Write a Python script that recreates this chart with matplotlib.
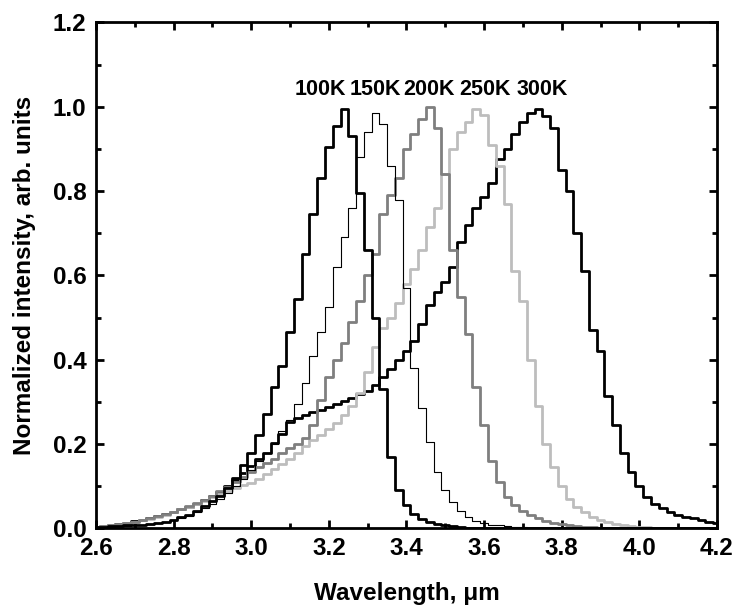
import matplotlib
matplotlib.use("Agg")
import matplotlib.pyplot as plt
from matplotlib.ticker import MultipleLocator
import numpy as np

plt.rcParams['font.family'] = ['Liberation Sans', 'DejaVu Sans']
plt.rcParams['font.weight'] = 'bold'

wl = [round(2.60 + 0.02 * i, 2) for i in range(81)]

i100 = [0.003, 0.004, 0.005, 0.006, 0.007, 0.008, 0.009, 0.011, 0.013, 0.016,
        0.020, 0.026, 0.032, 0.042, 0.054, 0.065, 0.076, 0.095, 0.120, 0.150,
        0.180, 0.222, 0.272, 0.335, 0.385, 0.465, 0.545, 0.650, 0.745, 0.830,
        0.905, 0.955, 0.995, 0.930, 0.795, 0.660, 0.500, 0.330, 0.170, 0.090,
        0.055, 0.035, 0.022, 0.015, 0.010, 0.007, 0.005, 0.003, 0.002, 0.001,
        0.0, 0.0, 0.0, 0.0, 0.0, 0.0, 0.0, 0.0, 0.0, 0.0,
        0.0, 0.0, 0.0, 0.0, 0.0, 0.0, 0.0, 0.0, 0.0, 0.0,
        0.0, 0.0, 0.0, 0.0, 0.0, 0.0, 0.0, 0.0, 0.0, 0.0, 0.0]

i150 = [0.002, 0.003, 0.004, 0.005, 0.006, 0.007, 0.008, 0.010, 0.012, 0.015,
        0.019, 0.024, 0.030, 0.038, 0.048, 0.058, 0.070, 0.085, 0.100, 0.118,
        0.138, 0.160, 0.180, 0.200, 0.230, 0.257, 0.295, 0.345, 0.410, 0.465,
        0.525, 0.620, 0.690, 0.760, 0.880, 0.940, 0.985, 0.960, 0.860, 0.780,
        0.570, 0.380, 0.285, 0.205, 0.135, 0.090, 0.062, 0.042, 0.028, 0.018,
        0.012, 0.009, 0.007, 0.005, 0.004, 0.003, 0.002, 0.001, 0.0, 0.0,
        0.0, 0.0, 0.0, 0.0, 0.0, 0.0, 0.0, 0.0, 0.0, 0.0,
        0.0, 0.0, 0.0, 0.0, 0.0, 0.0, 0.0, 0.0, 0.0, 0.0, 0.0]

i200 = [0.004, 0.006, 0.008, 0.010, 0.013, 0.016, 0.020, 0.024, 0.029, 0.034,
        0.040, 0.046, 0.053, 0.060, 0.068, 0.078, 0.088, 0.098, 0.110, 0.122,
        0.133, 0.145, 0.155, 0.165, 0.178, 0.190, 0.200, 0.215, 0.245, 0.305,
        0.360, 0.400, 0.440, 0.490, 0.540, 0.600, 0.650, 0.745, 0.790, 0.830,
        0.900, 0.935, 0.970, 1.000, 0.950, 0.840, 0.660, 0.550, 0.460, 0.335,
        0.245, 0.160, 0.110, 0.075, 0.055, 0.042, 0.032, 0.025, 0.018, 0.014,
        0.011, 0.008, 0.006, 0.004, 0.003, 0.002, 0.001, 0.0, 0.0, 0.0,
        0.0, 0.0, 0.0, 0.0, 0.0, 0.0, 0.0, 0.0, 0.0, 0.0, 0.0]

i250 = [0.003, 0.005, 0.007, 0.009, 0.012, 0.015, 0.019, 0.023, 0.028, 0.033,
        0.039, 0.045, 0.051, 0.058, 0.066, 0.074, 0.082, 0.089, 0.096, 0.102,
        0.108, 0.117, 0.128, 0.140, 0.152, 0.165, 0.180, 0.195, 0.210, 0.222,
        0.235, 0.250, 0.270, 0.290, 0.320, 0.370, 0.430, 0.475, 0.500, 0.535,
        0.580, 0.615, 0.660, 0.715, 0.760, 0.840, 0.900, 0.940, 0.965, 0.995,
        0.980, 0.910, 0.860, 0.770, 0.610, 0.540, 0.400, 0.290, 0.200, 0.145,
        0.100, 0.070, 0.050, 0.038, 0.028, 0.020, 0.015, 0.011, 0.008, 0.006,
        0.004, 0.003, 0.002, 0.001, 0.0, 0.0, 0.0, 0.0, 0.0, 0.0, 0.0]

i300 = [0.004, 0.006, 0.008, 0.011, 0.014, 0.017, 0.021, 0.025, 0.029, 0.034,
        0.039, 0.045, 0.051, 0.059, 0.067, 0.077, 0.087, 0.100, 0.115, 0.132,
        0.148, 0.165, 0.180, 0.203, 0.224, 0.252, 0.262, 0.268, 0.275, 0.282,
        0.288, 0.294, 0.302, 0.310, 0.318, 0.326, 0.340, 0.358, 0.378, 0.400,
        0.420, 0.445, 0.485, 0.530, 0.560, 0.585, 0.620, 0.680, 0.720, 0.760,
        0.785, 0.820, 0.875, 0.900, 0.935, 0.965, 0.985, 0.995, 0.978, 0.950,
        0.850, 0.800, 0.700, 0.610, 0.470, 0.420, 0.315, 0.245, 0.180, 0.135,
        0.100, 0.075, 0.058, 0.048, 0.040, 0.033, 0.028, 0.024, 0.020, 0.016, 0.012]

labels = ["100K", "150K", "200K", "250K", "300K"]
label_x = [3.177, 3.319, 3.458, 3.602, 3.751]
label_y = 1.04

fig = plt.figure(figsize=(7.39, 6.09), dpi=100)
ax = fig.add_axes([0.1299, 0.1323, 0.8403, 0.8309])

ax.plot(wl, i300, color='black', lw=2.0, drawstyle='steps-mid')
ax.plot(wl, i250, color='#bdbdbd', lw=2.0, drawstyle='steps-mid')
ax.plot(wl, i200, color='#7f7f7f', lw=2.0, drawstyle='steps-mid')
ax.plot(wl, i150, color='black', lw=0.8, drawstyle='steps-mid')
ax.plot(wl, i100, color='black', lw=2.0, drawstyle='steps-mid')

for t, x in zip(labels, label_x):
    ax.text(x, label_y, t, ha='center', va='center', fontsize=15.5, fontweight='bold')

ax.set_xlim(2.6, 4.2)
ax.set_ylim(0.0, 1.2)
ax.xaxis.set_major_locator(MultipleLocator(0.2))
ax.xaxis.set_minor_locator(MultipleLocator(0.1))
ax.yaxis.set_major_locator(MultipleLocator(0.2))
ax.yaxis.set_minor_locator(MultipleLocator(0.1))
ax.xaxis.set_major_formatter(plt.FormatStrFormatter('%.1f'))
ax.yaxis.set_major_formatter(plt.FormatStrFormatter('%.1f'))
ax.tick_params(which='both', direction='in', top=True, right=True, width=2.0,
               labelsize=17.5)
ax.tick_params(axis='x', which='major', pad=6)
ax.tick_params(axis='y', which='major', pad=7)
ax.tick_params(which='major', length=6)
ax.tick_params(which='minor', length=3.5)
for s in ax.spines.values():
    s.set_linewidth(2.0)

ax.set_xlabel("Wavelength, μm", fontsize=17.5, fontweight='bold', labelpad=16)
ax.set_ylabel("Normalized intensity, arb. units", fontsize=17.5, fontweight='bold', labelpad=12)

fig.savefig("out.png", dpi=100)
